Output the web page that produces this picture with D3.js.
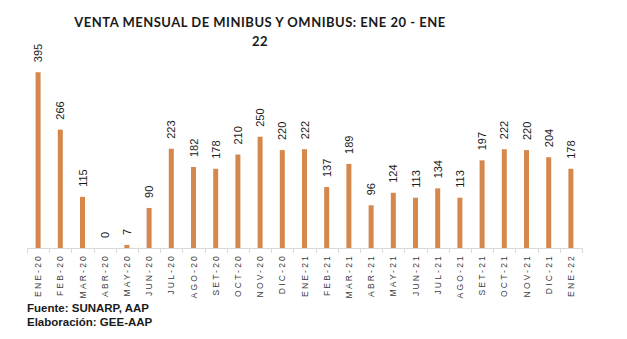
<!DOCTYPE html>
<html><head><meta charset="utf-8">
<script src="https://cdn.jsdelivr.net/npm/d3@7"></script>
<style>body{margin:0;background:#fff}svg{display:block}</style>
</head><body>
<script>
const categories = ["ENE-20","FEB-20","MAR-20","ABR-20","MAY-20","JUN-20","JUL-20","AGO-20","SET-20","OCT-20","NOV-20","DIC-20","ENE-21","FEB-21","MAR-21","ABR-21","MAY-21","JUN-21","JUL-21","AGO-21","SET-21","OCT-21","NOV-21","DIC-21","ENE-22"];
const values = [395,266,115,0,7,90,223,182,178,210,250,220,222,137,189,96,124,113,134,113,197,222,220,204,178];
const titleLines = ["VENTA MENSUAL DE MINIBUS Y OMNIBUS: ENE 20 - ENE","22"];
const footnotes = ["Fuente: SUNARP, AAP","Elaboración: GEE-AAP"];

const W = 627, H = 339;
const svg = d3.select("body").append("svg").attr("width", W).attr("height", H);

const x = d3.scaleBand().domain(categories).range([27, 582]).paddingInner(0.78).paddingOuter(0.39);
const y = d3.scaleLinear().domain([0, 400]).range([248, 70]);

// title
svg.append("text").attr("x", 260).attr("y", 27).attr("text-anchor", "middle")
  .style("font-family", "Lato, 'Open Sans', sans-serif").style("font-weight", "bold")
  .style("font-size", "13px").style("letter-spacing", "0.5px").attr("fill", "#1a1a1a")
  .selectAll("tspan").data(titleLines).join("tspan")
  .attr("x", 260).attr("dy", (d, i) => i ? 19 : 0).text(d => d);

// bars
svg.append("g").selectAll("rect").data(values).join("rect")
  .attr("x", (d, i) => x(categories[i]) + x.bandwidth() / 2 - 2.5)
  .attr("width", 5)
  .attr("y", d => y(d))
  .attr("height", d => y(0) - y(d))
  .attr("fill", "#D5874C");

// value labels
svg.append("g").selectAll("text").data(values).join("text")
  .attr("transform", (d, i) => `translate(${x(categories[i]) + x.bandwidth() / 2 + 4},${y(d) - 10}) rotate(-90)`)
  .attr("text-anchor", "start")
  .style("font-family", "'Liberation Sans', Arial, sans-serif").style("font-size", "11px")
  .attr("fill", "#1a1a1a").text(d => d);

// axis
const axisG = svg.append("g").attr("transform", `translate(0,${y(0)})`);
axisG.append("line").attr("x1", 27).attr("x2", 582).attr("y1", 0.5).attr("y2", 0.5).attr("stroke", "#d9d9d9");
const bounds = d3.range(categories.length + 1).map(i => 27 + i * (555 / categories.length));
axisG.selectAll("line.t").data(bounds).join("line").attr("class", "t")
  .attr("x1", d => Math.round(d) + 0.5).attr("x2", d => Math.round(d) + 0.5)
  .attr("y1", 0).attr("y2", 5).attr("stroke", "#d9d9d9");
axisG.selectAll("text").data(categories).join("text")
  .attr("transform", d => `translate(${x(d) + x.bandwidth() / 2 + 3},6) rotate(-90)`)
  .attr("text-anchor", "end")
  .style("font-family", "'Liberation Sans', Arial, sans-serif").style("font-size", "8.5px")
  .style("letter-spacing", "2.2px").attr("fill", "#404040").text(d => d);

// footnotes
svg.append("g").selectAll("text").data(footnotes).join("text")
  .attr("x", 27).attr("y", (d, i) => 312 + i * 14)
  .style("font-family", "'Liberation Sans', Arial, sans-serif").style("font-weight", "bold")
  .style("font-size", "11.5px").attr("fill", "#1a1a1a").text(d => d);
</script>
</body></html>
